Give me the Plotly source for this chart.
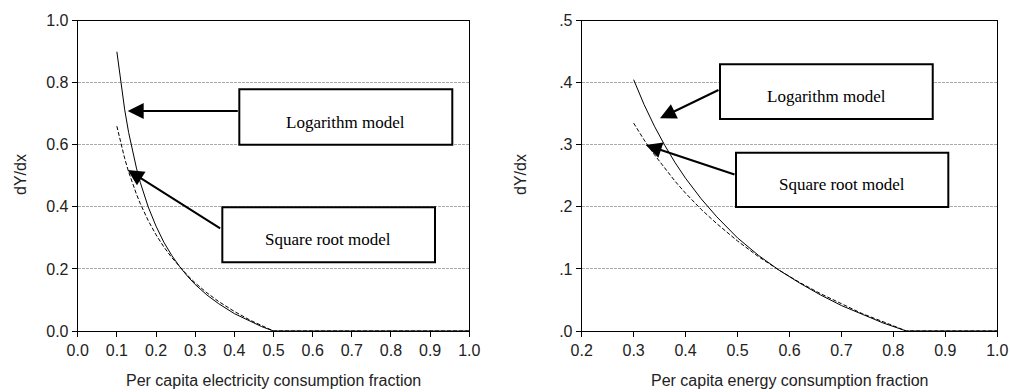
import plotly.graph_objects as go

# ---------------- data ----------------
elec_x = [0.10, 0.11, 0.12, 0.13, 0.14, 0.15, 0.16, 0.18, 0.20, 0.22, 0.24, 0.26,
          0.28, 0.30, 0.33, 0.36, 0.40, 0.44, 0.47, 0.50, 0.60, 0.70, 0.80, 0.90, 1.00]
elec_log = [0.900, 0.798, 0.713, 0.640, 0.579, 0.525, 0.478, 0.400, 0.338, 0.286,
            0.244, 0.208, 0.177, 0.150, 0.116, 0.088, 0.056, 0.031, 0.014, 0.0,
            0.0, 0.0, 0.0, 0.0, 0.0]
elec_sqrt = [0.660, 0.605, 0.556, 0.513, 0.475, 0.441, 0.410, 0.356, 0.310, 0.271,
             0.237, 0.207, 0.180, 0.155, 0.123, 0.095, 0.063, 0.035, 0.017, 0.0,
             0.0, 0.0, 0.0, 0.0, 0.0]

energy_x = [0.30, 0.32, 0.34, 0.36, 0.38, 0.40, 0.43, 0.46, 0.50, 0.54, 0.58, 0.62,
            0.66, 0.70, 0.74, 0.78, 0.825, 0.90, 1.00]
energy_log = [0.405, 0.365, 0.330, 0.299, 0.271, 0.246, 0.213, 0.184, 0.150, 0.122,
              0.098, 0.077, 0.058, 0.041, 0.027, 0.013, 0.0, 0.0, 0.0]
energy_sqrt = [0.335, 0.308, 0.284, 0.262, 0.241, 0.222, 0.196, 0.173, 0.145, 0.120,
               0.098, 0.078, 0.060, 0.044, 0.028, 0.015, 0.0, 0.0, 0.0]

left_x_ticks = [0.0, 0.1, 0.2, 0.3, 0.4, 0.5, 0.6, 0.7, 0.8, 0.9, 1.0]
left_x_labels = ["0.0", "0.1", "0.2", "0.3", "0.4", "0.5", "0.6", "0.7", "0.8", "0.9", "1.0"]
left_y_ticks = [0.0, 0.2, 0.4, 0.6, 0.8, 1.0]
left_y_labels = ["0.0", "0.2", "0.4", "0.6", "0.8", "1.0"]
right_x_ticks = [0.2, 0.3, 0.4, 0.5, 0.6, 0.7, 0.8, 0.9, 1.0]
right_x_labels = ["0.2", "0.3", "0.4", "0.5", "0.6", "0.7", "0.8", "0.9", "1.0"]
right_y_ticks = [0.0, 0.1, 0.2, 0.3, 0.4, 0.5]
right_y_labels = [".0", ".1", ".2", ".3", ".4", ".5"]

left_xtitle = "Per capita electricity consumption fraction"
right_xtitle = "Per capita energy consumption fraction"
ytitle = "dY/dx"
log_label = "Logarithm model"
sqrt_label = "Square root model"

# ---------------- figure ----------------
W, H = 1010, 392
SANS = "Liberation Sans, Arial, sans-serif"
SERIF = "Liberation Serif, Times New Roman, serif"

fig = go.Figure()
fig.add_trace(go.Scatter(x=elec_x, y=elec_log, mode="lines", xaxis="x", yaxis="y",
                         line=dict(color="black", width=1), showlegend=False))
fig.add_trace(go.Scatter(x=elec_x, y=elec_sqrt, mode="lines", xaxis="x", yaxis="y",
                         line=dict(color="black", width=1, dash="4px,2px"), showlegend=False))
fig.add_trace(go.Scatter(x=energy_x, y=energy_log, mode="lines", xaxis="x2", yaxis="y2",
                         line=dict(color="black", width=1), showlegend=False))
fig.add_trace(go.Scatter(x=energy_x, y=energy_sqrt, mode="lines", xaxis="x2", yaxis="y2",
                         line=dict(color="black", width=1, dash="4px,2px"), showlegend=False))

ybot = 1 - 331 / H
ytop = 1 - 20.7 / H
common_x = dict(showline=True, linecolor="black", linewidth=1, mirror=True,
                ticks="outside", ticklen=5, tickwidth=1, tickcolor="black",
                showgrid=False, zeroline=False, automargin=False,
                tickfont=dict(family=SANS, size=16, color="#222"))
common_y = dict(showline=True, linecolor="black", linewidth=1, mirror=True,
                ticks="outside", ticklen=5, tickwidth=1, tickcolor="black",
                showgrid=True, gridcolor="#aaaaaa", gridwidth=1, griddash="3px,1px",
                zeroline=False, automargin=False,
                tickfont=dict(family=SANS, size=16, color="#222"))

fig.update_layout(
    width=W, height=H, autosize=False,
    margin=dict(l=0, r=0, t=0, b=0, pad=0, autoexpand=False),
    paper_bgcolor="white", plot_bgcolor="white",
    xaxis=dict(domain=[77.7 / W, 469.3 / W], range=[0, 1],
               tickvals=left_x_ticks, ticktext=left_x_labels, anchor="y", **common_x),
    yaxis=dict(domain=[ybot, ytop], range=[0, 1],
               tickvals=left_y_ticks, ticktext=left_y_labels, anchor="x", **common_y),
    xaxis2=dict(domain=[581.7 / W, 997.3 / W], range=[0.2, 1.0],
                tickvals=right_x_ticks, ticktext=right_x_labels, anchor="y2", **common_x),
    yaxis2=dict(domain=[ybot, ytop], range=[0, 0.5],
                tickvals=right_y_ticks, ticktext=right_y_labels, anchor="x2", **common_y),
)

# boxes
boxes = [
    ("x", "y", 0.4127, 0.9566, 0.6004, 0.7789),
    ("x", "y", 0.3693, 0.9124, 0.2214, 0.3986),
    ("x2", "y2", 0.4662, 0.8757, 0.3416, 0.4297),
    ("x2", "y2", 0.4970, 0.9057, 0.1998, 0.2873),
]
for xr, yr, x0, x1, y0, y1 in boxes:
    fig.add_shape(type="rect", xref=xr, yref=yr, x0=x0, x1=x1, y0=y0, y1=y1,
                  line=dict(color="black", width=2), fillcolor="white", layer="above")

# box texts
texts = [
    ("x", "y", 0.684, 0.671, log_label),
    ("x", "y", 0.639, 0.2955, sqrt_label),
    ("x2", "y2", 0.6716, 0.3775, log_label),
    ("x2", "y2", 0.7005, 0.2364, sqrt_label),
]
for xr, yr, x, y, t in texts:
    fig.add_annotation(xref=xr, yref=yr, x=x, y=y, text=t, showarrow=False,
                       xanchor="center", yanchor="middle",
                       font=dict(family=SERIF, size=17, color="black"))

# arrows (tail -> head)
arrows = [
    ("x", "y", 0.4127, 0.709, 0.1277, 0.709),
    ("x", "y", 0.3677, 0.3277, 0.1277, 0.5189),
    ("x2", "y2", 0.4662, 0.3895, 0.3507, 0.3427),
    ("x2", "y2", 0.4970, 0.2514, 0.3232, 0.2997),
]
for xr, yr, ax, ay, x, y in arrows:
    fig.add_annotation(xref=xr, yref=yr, axref=xr, ayref=yr, x=x, y=y, ax=ax, ay=ay,
                       text="", showarrow=True, arrowhead=2, arrowsize=1.6,
                       arrowwidth=2, arrowcolor="black", standoff=0)

# axis titles
for xc, t in [(273.5, left_xtitle), (789.5, right_xtitle)]:
    fig.add_annotation(xref="paper", yref="paper", x=xc / W, y=1 - 380 / H,
                       xanchor="center", yanchor="middle",
                       text=t, showarrow=False,
                       font=dict(family=SANS, size=16, color="#222"))
for xc in [20, 520]:
    fig.add_annotation(xref="paper", yref="paper", x=xc / W, y=1 - 175 / H,
                       xanchor="center", yanchor="middle",
                       text=ytitle, textangle=-90, showarrow=False,
                       font=dict(family=SANS, size=16, color="#222"))

fig.write_html("out.html")
